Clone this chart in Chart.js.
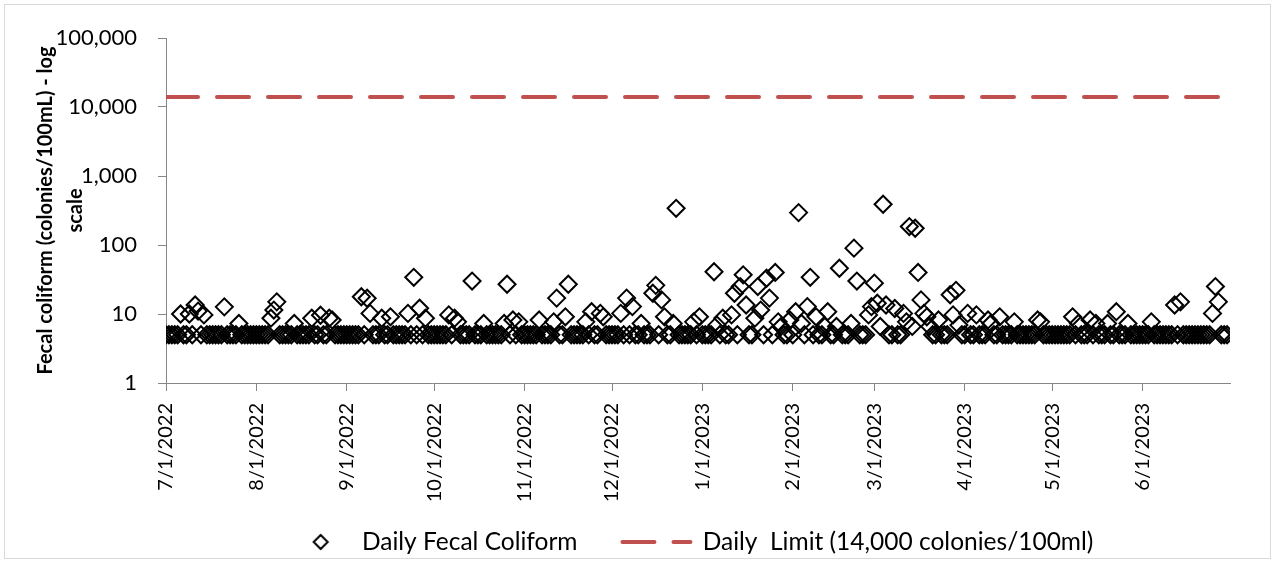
<!DOCTYPE html>
<html>
<head>
<meta charset="utf-8">
<script src="https://cdn.jsdelivr.net/npm/chart.js@4.4.1/dist/chart.umd.min.js"></script>
<style>
  html, body { margin: 0; padding: 0; background: #ffffff; }
  #c { display: block; }
</style>
</head>
<body>
<canvas id="c" width="1275" height="563"></canvas>
<script>
// ---- Data (daily fecal coliform, colonies/100mL), day 0 = 7/1/2022 ----
const jul2022 = [5,5,5,5,5,10,5,5,10,5, 13.5,11,5,9.7,5,5,5,5,5,5, 12.7,5,5,5,5,7.3,5,5,5,5, 5];
const aug2022 = [5,5,5,5,5,8.7,11.4,15,5,5, 5,5,5,7.3,5,5,5,5,5,8.7, 5,5,9.6,5,5,8.7,8.2,5,5,5, 5];
const sep2022 = [5,5,5,5,5,17.8,5,16.9,10.2,5, 5,5,8.7,5,5,9.1,5,5,5,5, 5,10.2,5,34,5,12.1,5,8.7,5,5];
const oct2022 = [5,5,5,5,5,9.7,5,8.7,7.7,5, 5,5,5,30,5,5,5,7.3,5,5, 5,5,5,5,7.3,27,5,8.2,5,7.7, 5];
const nov2022 = [5,5,5,5,5,8.2,5,5,5,5, 7.7,17,5,5,9.1,27,5,5,5,5, 5,7.7,5,10.8,5,5,10.2,9.1,5,5];
const dec2022 = [5,5,5,10.2,5,17,5,12.8,5,5, 7.3,5,5,5,20,26,5,16,9.1,5, 5,7.3,340,5,5,5,5,5,7.7,5, 9.1];
const jan2023 = [5,5,5,5,41,6.9,5,8.7,5,5, 9.7,20,5,25,37,13.5,5,5,8.7,25, 11.4,5,33,17,5,40,7.7,6.6,5,5, 8.2];
const feb2023 = [5,10.8,295,7.3,5,12.8,34,5,9.1,5, 5,6.6,10.8,5,5,6.6,46,5,5,5, 7.3,90,30,5,5,5,9.7,12.8];
const mar2023 = [28,14.3,6.6,390,13.5,5,5,12,5,5, 10.2,7.7,185,6.6,175,40,16,10.2,9.1,6.6, 5,5,8.2,5,5,5,19,9.7,22,6.9, 5];
const apr2023 = [5,10.2,5,5,9.7,5,5,5,8.2,7.3, 5,5,9.1,5,5,5,5,7.7,5,5, 5,5,5,5,5,8.2,7.7,5,5,5];
const may2023 = [5,5,5,5,5,5,5,9.1,5,7.3, 5,5,5,8.2,5,7.3,5,5,5,7.3, 5,5,10.8,5,5,5,7.3,5,5,5, 5];
const jun2023 = [5,5,5,7.7,5,5,5,5,5,5, 5,13.5,5,15,5,5,5,5,5,5, 5,5,5,5,10.2,25,15,5,5,5];

const dailyValues = [].concat(jul2022, aug2022, sep2022, oct2022, nov2022, dec2022,
                              jan2023, feb2023, mar2023, apr2023, may2023, jun2023);

const limitValue = 14000;
const axisDayRange = [0, 365];

const tickDays   = [0, 31, 62, 92, 123, 153, 184, 215, 243, 274, 304, 335];
const tickLabels = ['7/1/2022','8/1/2022','9/1/2022','10/1/2022','11/1/2022','12/1/2022',
                    '1/1/2023','2/1/2023','3/1/2023','4/1/2023','5/1/2023','6/1/2023'];
const yTickValues = [1, 10, 100, 1000, 10000, 100000];

const seriesNames = ['Daily Fecal Coliform', 'Daily  Limit (14,000 colonies/100ml)'];
const yTitle = ['Fecal coliform (colonies/100mL) - log', 'scale'];

// ---- Styles ----
const FONT = 'Lato';
const AXIS_COLOR = '#868686';
const LIMIT_COLOR = '#C0504D';
const LIMIT_DASH = [32, 19];
const LEGEND_FONT = 24.5;
const LEGEND_PAD = 45;

// legend diamond icon (drawn slightly right of its box centre)
const diamondIcon = document.createElement('canvas');
diamondIcon.width = 30; diamondIcon.height = 20;
(function () {
  const g = diamondIcon.getContext('2d');
  g.strokeStyle = '#000'; g.lineWidth = 2;
  g.beginPath();
  g.moveTo(20, 3); g.lineTo(27, 10); g.lineTo(20, 17); g.lineTo(13, 10); g.closePath();
  g.stroke();
})();

const borderPlugin = {
  id: 'chartBorder',
  beforeDraw(chart) {
    const ctx = chart.ctx;
    ctx.save();
    ctx.fillStyle = '#ffffff';
    ctx.fillRect(0, 0, chart.width, chart.height);
    ctx.strokeStyle = '#d9d9d9';
    ctx.lineWidth = 1;
    ctx.strokeRect(4.5, 4.5, chart.width - 9, chart.height - 9);
    ctx.restore();
  }
};

// nudge the legend box so it sits like the original (overlapping the tall axis-label band)
const legendPlacePlugin = {
  id: 'legendPlace',
  afterLayout(chart) {
    const lg = chart.legend;
    if (!lg) return;
    const dy = 23.25, dx = -10.5;
    lg.top -= dy; lg.bottom -= dy;
    lg.left += dx; lg.right += dx;
  }
};

new Chart(document.getElementById('c'), {
  type: 'scatter',
  data: {
    datasets: [
      {
        label: seriesNames[0],
        data: dailyValues.map((v, i) => ({ x: i, y: v })),
        pointStyle: 'rectRot',
        pointRadius: 8.5,
        pointBorderWidth: 2,
        borderColor: '#000000',
        backgroundColor: 'rgba(0,0,0,0)',
        order: 1
      },
      {
        label: seriesNames[1],
        type: 'line',
        data: axisDayRange.map(d => ({ x: d, y: limitValue })),
        borderColor: LIMIT_COLOR,
        borderWidth: 4,
        borderDash: LIMIT_DASH,
        borderCapStyle: 'round',
        pointRadius: 0,
        fill: false,
        order: 2
      }
    ]
  },
  options: {
    responsive: false,
    animation: false,
    devicePixelRatio: 1,
    layout: { padding: { left: 10, right: 45, top: 38, bottom: -24.5 } },
    plugins: {
      tooltip: { enabled: false },
      legend: {
        position: 'bottom',
        fullSize: false,
        labels: {
          usePointStyle: true,
          pointStyleWidth: 68,
          padding: LEGEND_PAD,
          color: '#000000',
          font: { family: FONT, size: LEGEND_FONT },
          generateLabels: () => [
            { text: seriesNames[0], pointStyle: diamondIcon, fillStyle: 'rgba(0,0,0,0)',
              strokeStyle: '#000', lineWidth: 0, hidden: false, datasetIndex: 0, fontColor: '#000' },
            { text: seriesNames[1], pointStyle: 'line', fillStyle: LIMIT_COLOR,
              strokeStyle: LIMIT_COLOR, lineWidth: 4, lineDash: LIMIT_DASH, lineCap: 'round',
              hidden: false, datasetIndex: 1, fontColor: '#000' }
          ]
        }
      }
    },
    scales: {
      x: {
        type: 'linear',
        min: axisDayRange[0],
        max: axisDayRange[1],
        afterBuildTicks: (scale) => { scale.ticks = tickDays.map(v => ({ value: v })); },
        afterFit: (scale) => { scale.height = 125; },
        grid: { display: true, drawOnChartArea: false, drawTicks: true, tickLength: 8, color: AXIS_COLOR },
        border: { display: true, color: AXIS_COLOR, width: 1 },
        ticks: {
          autoSkip: false,
          minRotation: 90,
          maxRotation: 90,
          padding: 12,
          color: '#000000',
          font: { family: FONT, size: 20 },
          callback: (v) => { const i = tickDays.indexOf(v); return i >= 0 ? tickLabels[i] : ''; }
        }
      },
      y: {
        type: 'logarithmic',
        min: 1,
        max: 100000,
        afterBuildTicks: (scale) => { scale.ticks = yTickValues.map(v => ({ value: v })); },
        afterFit: (scale) => { scale.width = 156; },
        grid: { display: true, drawOnChartArea: false, drawTicks: true, tickLength: 8, color: AXIS_COLOR },
        border: { display: true, color: AXIS_COLOR, width: 1 },
        ticks: {
          padding: 21,
          color: '#000000',
          font: { family: FONT, size: 22 },
          callback: (v) => Number(v).toLocaleString('en-US')
        },
        title: {
          display: true,
          text: yTitle,
          color: '#000000',
          font: { family: FONT, size: 20, weight: 'bold', lineHeight: 1.5 },
          padding: { top: 21, bottom: 0 }
        }
      }
    }
  },
  plugins: [borderPlugin, legendPlacePlugin]
});
</script>
</body>
</html>
